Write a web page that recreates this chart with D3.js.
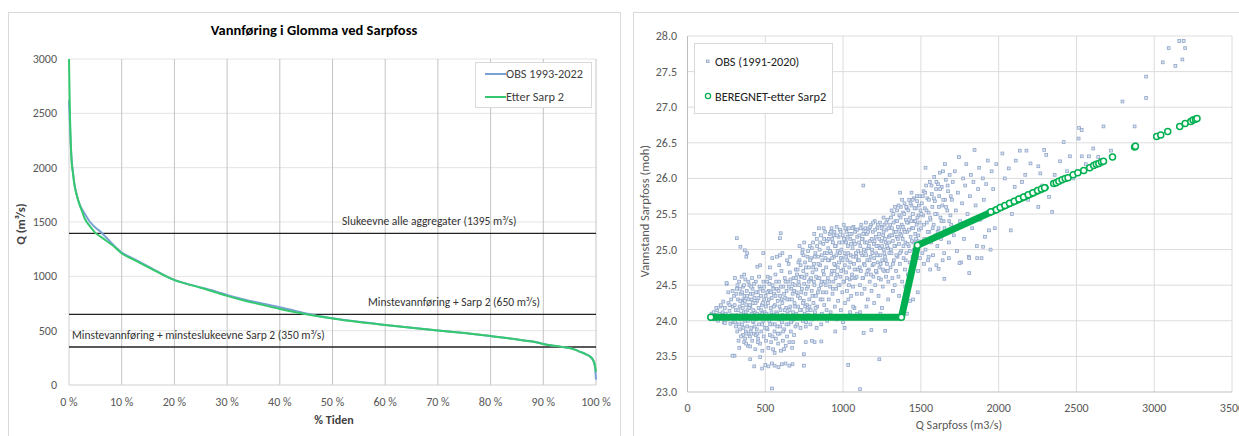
<!DOCTYPE html>
<html>
<head>
<meta charset="utf-8">
<script src="https://cdn.jsdelivr.net/npm/d3@7"></script>
<style>
  body { margin: 0; background: #fff; }
  svg { font-family: Calibri, Carlito, Lato, sans-serif; }
</style>
</head>
<body>
<svg id="chart" width="1239" height="436"></svg>
<script>
// ---------- left chart: duration curve ----------
const obsCurve = [[0,2620],[0.1,2500],[0.25,2300],[0.5,2080],[0.75,1960],[1,1860],[1.5,1745],[2,1665],[2.5,1615],[3,1575],[4,1500],[5,1450],[6,1410],[7,1360],[8,1310],[9,1262],[10,1218],[12,1168],[14,1118],[16,1065],[18,1012],[20,968],[22,937],[25,898],[28,858],[30,828],[33,790],[36,757],[40,715],[43,682],[45,658],[47,638],[50,615],[55,581],[60,553],[65,527],[70,502],[75,478],[80,450],[83,432],[86,412],[88,400],[90,378],[92,362],[94,348],[95,340],[96,325],[97,305],[98,285],[99,255],[99.5,222],[99.8,170],[100,50]];
const etterCurve = [[0,3000],[0.1,2700],[0.2,2450],[0.35,2200],[0.5,2050],[0.75,1950],[1,1850],[1.5,1740],[2,1660],[2.5,1595],[3,1530],[4,1460],[5,1400],[6,1365],[7,1330],[8,1295],[9,1255],[10,1212],[12,1160],[14,1110],[16,1060],[18,1010],[20,965],[22,935],[25,895],[28,850],[30,820],[33,780],[36,745],[40,700],[43,670],[45,652],[47,635],[50,612],[55,580],[60,553],[65,527],[70,502],[75,478],[80,450],[83,432],[86,412],[88,400],[90,378],[92,362],[94,348],[95,340],[96,325],[97,305],[98,285],[99,258],[99.5,225],[99.8,180],[100,120]];
const refLevels = [1395, 650, 350];
const refLabels = ["Slukeevne alle aggregater (1395 m³/s)", "Minstevannføring + Sarp 2 (650 m³/s)", "Minstevannføring + minsteslukeevne Sarp 2 (350 m³/s)"];
const refLabelX = [342, 368, 72];
const qTicks = [0, 500, 1000, 1500, 2000, 2500, 3000];
const pctTicks = [0, 10, 20, 30, 40, 50, 60, 70, 80, 90, 100];

// ---------- right chart: rating scatter ----------
const obsBandA = [[155,24.1],[168,24.12],[175,24.02],[182,24.08],[190,24.15],[197,24.0],[205,24.1],[212,24.2],[220,24.05],[226,24.12],[233,23.98],[240,24.18],[246,24.1],[252,24.52],[258,24.02],[263,24.25],[270,24.14],[276,23.96],[281,24.3],[287,24.08],[292,24.2],[297,23.98],[300,24.35],[215,24.22],[185,24.18],[262,24.4],[240,23.97],[290,24.42],[270,24.22],[230,24.27]];
const obsBandB = [[305,24.6],[310,24.15],[312,23.92],[318,24.45],[322,24.05],[325,24.3],[328,23.72],[332,24.55],[335,24.2],[338,23.88],[342,24.38],[345,24.1],[348,24.62],[350,23.95],[353,24.25],[356,23.8],[358,24.48],[361,24.12],[364,23.7],[367,24.35],[370,24.0],[372,24.58],[375,23.85],[378,24.22],[381,24.42],[384,23.92],[386,24.15],[389,23.65],[392,24.3],[395,24.05],[398,24.5],[401,23.78],[404,24.2],[407,24.38],[410,23.9],[413,24.1],[416,23.72],[418,24.45],[421,24.25],[424,23.98],[427,23.82],[430,24.32],[433,24.12],[436,23.6],[439,24.55],[442,24.02],[445,23.88],[448,24.28],[451,24.4],[454,23.75],[457,24.18],[460,23.95],[463,24.48],[466,23.68],[469,24.08],[472,24.35],[475,23.85],[478,24.22],[481,23.58],[484,24.42],[487,24.0],[490,23.78],[493,24.3],[496,24.12],[499,23.9],[320,23.85],[340,24.02],[360,24.3],[380,24.08],[400,24.22],[420,24.38],[440,23.8],[460,24.62],[480,24.1],[333,23.62],[371,23.75],[415,24.6],[452,23.7],[488,24.55],[365,24.65]];
const obsBandB2 = [[303,24.22],[307,23.98],[314,24.38],[316,24.08],[321,24.5],[327,24.15],[331,23.95],[336,24.45],[339,24.28],[344,23.78],[347,24.05],[352,24.4],[355,24.18],[359,23.9],[363,24.5],[366,24.02],[369,24.28],[374,24.12],[377,23.68],[383,24.35],[388,24.0],[391,24.55],[394,23.82],[397,24.18],[403,24.05],[406,23.85],[409,24.48],[412,24.3],[419,24.0],[423,24.15],[428,24.52],[432,23.92],[437,24.25],[441,24.4],[447,24.1],[450,23.82],[456,24.32],[462,24.05],[468,24.45],[474,24.15],[479,23.95],[485,24.25],[492,24.48],[497,24.05]];
const obsBandC = [[502,24.35],[505,23.72],[508,24.1],[511,24.55],[514,23.88],[517,24.25],[520,23.62],[523,24.42],[526,24.0],[529,23.8],[532,24.6],[535,24.18],[538,23.7],[541,24.32],[544,23.95],[547,24.5],[550,23.6],[553,24.08],[556,24.38],[559,23.85],[562,24.22],[565,24.65],[568,23.75],[571,24.12],[574,24.45],[577,23.92],[580,24.28],[583,23.68],[586,24.02],[589,24.55],[592,23.82],[595,24.35],[598,24.15],[601,23.58],[604,24.7],[607,23.98],[610,24.25],[613,23.72],[616,24.48],[619,24.05],[622,23.88],[625,24.6],[628,24.32],[631,23.65],[634,24.18],[637,24.42],[640,23.78],[643,24.1],[646,24.55],[649,23.95],[652,24.3],[655,23.7],[658,24.68],[661,24.2],[664,23.85],[667,24.45],[670,24.0],[673,23.62],[676,24.38],[679,24.12],[682,24.6],[685,23.8],[688,24.25],[691,24.5],[694,23.92],[697,24.72],[530,24.75],[560,23.55],[590,24.78],[620,23.6],[650,24.8],[680,23.7],[515,24.62],[545,24.88],[575,24.9],[640,24.85],[610,24.95],[660,24.9],[700,24.1]];
const obsBandC2 = [[504,24.2],[509,23.9],[513,24.4],[518,24.05],[522,24.3],[527,24.52],[531,23.95],[536,24.4],[540,24.12],[546,23.78],[551,24.45],[555,24.2],[561,23.95],[566,24.35],[570,24.55],[576,24.1],[581,23.82],[585,24.42],[591,24.2],[596,23.92],[600,24.48],[605,24.3],[611,24.08],[615,23.85],[621,24.38],[626,24.15],[630,24.55],[636,23.95],[641,24.3],[645,24.05],[651,24.48],[656,24.15],[662,24.58],[666,23.98],[671,24.3],[675,24.52],[681,24.02],[686,24.42],[692,24.2],[698,24.6]];
const obsBandD = [[702,24.4],[705,23.95],[708,24.72],[711,24.2],[714,24.55],[717,24.05],[720,24.85],[723,24.32],[726,23.9],[729,24.62],[732,24.15],[735,24.45],[738,24.95],[741,24.0],[744,24.7],[747,24.28],[750,24.52],[753,24.1],[756,24.82],[759,24.38],[762,23.98],[765,24.65],[768,24.22],[771,24.9],[774,24.48],[777,24.08],[780,24.75],[783,24.3],[786,25.05],[789,24.58],[792,24.15],[795,24.88],[798,24.42],[801,24.02],[804,24.68],[807,25.1],[810,24.25],[813,24.8],[816,24.5],[819,24.12],[822,24.95],[825,24.35],[828,24.72],[831,25.15],[834,24.2],[837,24.6],[840,24.9],[843,24.05],[846,24.45],[849,25.0],[852,24.78],[855,24.3],[858,25.2],[861,24.55],[864,24.1],[867,24.85],[870,24.4],[873,25.08],[876,24.65],[879,24.22],[882,24.95],[885,25.25],[888,24.5],[891,24.75],[894,24.15],[897,25.12],[740,25.0],[760,23.92],[790,23.95],[830,23.9],[860,23.95],[720,25.05],[750,25.1],[815,25.22],[845,25.3],[875,25.3],[898,24.0]];
const obsBandD2 = [[704,24.65],[709,24.35],[713,24.82],[718,24.5],[722,24.15],[727,24.78],[731,24.4],[736,24.62],[742,24.25],[746,24.92],[752,24.6],[757,24.2],[761,24.75],[766,24.45],[770,24.15],[775,24.98],[779,24.55],[784,24.2],[788,24.85],[794,24.6],[799,25.02],[803,24.35],[808,24.75],[812,24.55],[818,24.9],[823,24.18],[827,24.62],[833,25.05],[838,24.4],[842,24.8],[848,24.6],[853,25.1],[857,24.5],[863,24.92],[868,24.3],[872,24.7],[878,25.15],[883,24.55],[887,24.88],[893,24.4],[896,24.95]];
const obsBandE = [[902,24.6],[905,25.02],[908,24.3],[911,24.85],[914,25.22],[917,24.48],[920,24.12],[923,24.95],[926,25.3],[929,24.7],[932,24.38],[935,25.1],[938,24.55],[941,24.9],[944,25.25],[947,24.2],[950,24.78],[953,25.05],[956,24.45],[959,25.32],[962,24.65],[965,24.98],[968,24.28],[971,25.18],[974,24.82],[977,24.5],[980,25.28],[983,24.62],[986,24.15],[989,25.0],[992,24.88],[995,24.4],[998,25.2],[1001,24.72],[1004,25.35],[1007,24.55],[1010,24.95],[1013,24.25],[1016,25.12],[1019,24.68],[1022,25.25],[1025,24.42],[1028,24.85],[1031,25.05],[1034,24.3],[1037,25.3],[1040,24.75],[1043,24.58],[1046,25.15],[1049,24.92],[1052,24.35],[1055,25.22],[1058,24.65],[1061,25.02],[1064,24.48],[1067,25.32],[1070,24.8],[1073,24.18],[1076,25.08],[1079,24.6],[1082,25.28],[1085,24.9],[1088,24.38],[1091,25.18],[1094,24.72],[1097,24.98],[915,24.05],[960,24.02],[1000,23.98],[1045,24.12],[1090,24.1],[930,25.15],[1020,25.1],[1065,24.2],[985,24.88],[945,24.7]];
const obsBandE2 = [[903,24.85],[907,25.15],[912,24.55],[916,24.98],[921,25.25],[925,24.65],[930,24.88],[934,24.45],[939,25.2],[943,24.8],[948,25.05],[952,24.6],[957,24.92],[961,25.2],[966,24.75],[970,24.5],[975,25.1],[979,24.95],[984,25.25],[988,24.7],[993,25.1],[997,24.85],[1002,24.55],[1006,25.15],[1011,24.78],[1015,25.3],[1020,24.9],[1024,24.6],[1029,25.18],[1033,24.95],[1038,24.5],[1042,25.22],[1047,24.82],[1051,25.08],[1056,24.6],[1060,25.3],[1065,24.9],[1069,25.12],[1074,24.72],[1078,25.25],[1083,24.95],[1087,24.62],[1092,25.28],[1096,24.85]];
const obsBandF = [[1102,24.85],[1105,25.2],[1108,24.5],[1111,25.05],[1114,24.7],[1117,25.35],[1120,24.38],[1123,24.92],[1126,25.15],[1129,24.6],[1132,25.28],[1135,24.8],[1138,24.45],[1141,25.1],[1144,24.98],[1147,25.38],[1150,24.65],[1153,25.22],[1156,24.85],[1159,24.3],[1162,25.02],[1165,24.72],[1168,25.3],[1171,24.55],[1174,25.12],[1177,24.9],[1180,25.35],[1183,24.42],[1186,25.0],[1189,24.78],[1192,25.25],[1195,24.62],[1198,25.08],[1201,24.88],[1204,25.4],[1207,24.5],[1210,25.18],[1213,24.95],[1216,24.68],[1219,25.3],[1222,24.82],[1225,25.05],[1228,24.35],[1231,25.22],[1234,24.75],[1237,25.38],[1240,24.92],[1243,24.58],[1246,25.12],[1249,25.32],[1252,24.85],[1255,24.48],[1258,25.2],[1261,25.0],[1264,24.7],[1267,25.35],[1270,24.9],[1273,25.1],[1276,24.62],[1279,25.28],[1282,24.8],[1285,25.42],[1288,25.02],[1291,24.55],[1294,25.18],[1297,24.95],[1110,24.12],[1150,24.2],[1200,24.25],[1250,24.18],[1290,24.3],[1180,24.05],[1240,24.1],[1130,25.9],[1260,25.45]];
const obsBandF2 = [[1103,25.1],[1107,24.75],[1112,25.3],[1116,24.95],[1121,25.15],[1125,24.6],[1130,25.22],[1134,25.0],[1139,24.78],[1143,25.3],[1148,24.92],[1152,25.1],[1157,24.7],[1161,25.25],[1166,25.05],[1170,24.85],[1175,25.32],[1179,24.65],[1184,25.15],[1188,24.95],[1193,25.38],[1197,24.8],[1202,25.12],[1206,25.28],[1211,24.7],[1215,25.05],[1220,24.92],[1224,25.35],[1229,24.6],[1233,25.15],[1238,25.02],[1242,24.8],[1247,25.3],[1251,25.05],[1256,24.72],[1260,25.25],[1265,24.95],[1269,25.15],[1274,24.85],[1278,25.38],[1283,25.05],[1287,24.7],[1292,25.3],[1296,25.1]];
const obsBandG = [[1302,25.2],[1305,24.75],[1308,25.45],[1311,24.95],[1314,25.3],[1317,24.6],[1320,25.12],[1323,25.5],[1326,24.85],[1329,25.25],[1332,24.5],[1335,25.05],[1338,25.4],[1341,24.7],[1344,25.18],[1347,25.55],[1350,24.9],[1353,25.32],[1356,24.62],[1359,25.08],[1362,25.48],[1365,24.8],[1368,25.22],[1371,25.6],[1374,24.98],[1377,25.35],[1380,24.55],[1383,25.15],[1386,25.52],[1389,24.88],[1392,25.28],[1395,25.65],[1398,24.72],[1401,25.1],[1404,25.42],[1407,24.95],[1410,25.58],[1413,25.25],[1416,24.65],[1419,25.38],[1422,25.05],[1425,25.7],[1428,24.82],[1431,25.45],[1434,25.18],[1437,24.58],[1440,25.62],[1443,25.3],[1446,24.9],[1449,25.5],[1452,25.1],[1455,25.72],[1458,24.78],[1461,25.4],[1464,25.22],[1467,25.58],[1470,24.95],[1473,25.35],[1476,25.68],[1479,25.12],[1482,24.7],[1485,25.48],[1488,25.28],[1491,25.75],[1494,24.88],[1497,25.55],[1320,24.42],[1360,24.35],[1400,24.48],[1430,24.28],[1410,24.1],[1450,24.3],[1480,24.4],[1367,25.8],[1440,25.8]];
const obsBandG2 = [[1303,25.35],[1307,25.0],[1312,25.55],[1316,25.2],[1321,24.8],[1325,25.38],[1330,25.05],[1334,25.6],[1339,25.25],[1343,24.92],[1348,25.4],[1352,25.15],[1357,25.62],[1361,25.28],[1366,24.95],[1370,25.45],[1375,25.2],[1379,25.7],[1384,25.32],[1388,25.05],[1393,25.5],[1397,25.25],[1402,24.85],[1406,25.6],[1411,25.38],[1415,25.08],[1420,25.55],[1424,25.28],[1429,24.98],[1433,25.65],[1438,25.4],[1442,25.12],[1447,25.7],[1451,25.3],[1456,25.0],[1460,25.58],[1465,25.4],[1469,25.15],[1474,25.75],[1478,25.45],[1483,25.2],[1487,25.62],[1492,25.38],[1496,25.1]];
const obsBandH = [[1502,25.3],[1506,25.65],[1510,24.95],[1514,25.48],[1518,25.82],[1522,25.15],[1526,25.58],[1530,25.0],[1534,25.9],[1538,25.38],[1542,25.72],[1546,24.85],[1550,25.52],[1554,25.25],[1558,25.95],[1562,25.42],[1566,25.1],[1570,25.78],[1574,25.6],[1578,24.92],[1582,25.35],[1586,26.02],[1590,25.68],[1594,25.2],[1598,25.85],[1602,25.5],[1606,25.05],[1610,25.92],[1614,25.3],[1618,25.75],[1622,26.08],[1626,25.45],[1630,25.15],[1634,25.88],[1638,25.62],[1642,26.1],[1646,25.4],[1650,24.95],[1655,25.7],[1660,25.98],[1665,25.25],[1670,25.55],[1675,25.82],[1680,25.1],[1685,26.05],[1690,25.48],[1695,25.35],[1520,24.8],[1560,24.72],[1600,24.78],[1640,24.85],[1680,24.88],[1530,26.15],[1700,25.7],[1655,26.2]];
const obsBandH2 = [[1504,25.5],[1512,25.75],[1520,25.35],[1528,25.8],[1536,25.55],[1544,25.25],[1552,25.7],[1560,25.45],[1568,25.9],[1576,25.3],[1584,25.72],[1592,25.5],[1600,25.95],[1608,25.25],[1616,25.6],[1624,25.85],[1632,25.4],[1644,25.7],[1652,25.3],[1662,25.6],[1672,25.9],[1682,25.4],[1692,25.75]];
const obsBandI = [[1705,25.95],[1712,25.2],[1718,26.1],[1725,25.55],[1732,24.98],[1738,25.8],[1745,26.3],[1752,25.4],[1758,24.82],[1765,25.65],[1772,26.0],[1778,25.15],[1785,25.9],[1792,26.2],[1800,25.5],[1808,24.9],[1815,25.75],[1822,26.05],[1830,25.3],[1838,25.95],[1845,26.4],[1852,25.62],[1860,25.05],[1868,25.85],[1875,26.15],[1882,25.42],[1890,24.88],[1898,26.0],[1905,25.7],[1912,25.18],[1920,25.92],[1930,26.25],[1940,25.5],[1948,25.0],[1955,26.1],[1965,25.85],[1975,25.3],[1985,26.2]];
const obsBandJ = [[2024,26.35],[2065,26.14],[2078,25.27],[2103,25.88],[2136,26.39],[2171,26.05],[2179,26.39],[2205,26.21],[2230,25.81],[2255,26.17],[2255,25.6],[2268,26.07],[2293,26.4],[2306,26.33],[2324,25.74],[2344,25.53],[2395,26.24],[2418,26.51],[2458,26.31],[2514,26.56],[2517,26.71],[2534,26.68],[2534,26.31],[2580,26.31],[2608,26.42],[2674,26.73],[2722,26.39],[2040,26.0],[2110,26.25],[2150,25.95],[2190,25.7],[2280,25.9],[2360,26.05],[2440,26.1],[2480,26.0],[2560,26.2],[2640,26.3],[2085,25.5]];
const obsHigh = [[2796,27.08],[2874,26.73],[2948,27.43],[2948,27.13],[3055,27.63],[3093,27.83],[3136,27.58],[3161,27.93],[3189,27.93],[3181,27.67],[3199,27.83],[2880,26.48]];
const obsLow = [[1132,23.83],[1182,23.87],[1271,23.86],[1233,23.46],[1109,23.04],[1033,23.38],[543,23.05],[748,23.37],[817,23.7],[860,23.71],[748,23.53],[467,23.49],[543,23.4],[606,23.39],[675,23.39],[429,23.36],[480,23.33],[302,23.51],[289,23.51],[403,23.46],[403,23.64],[378,23.82],[500,23.38],[520,23.36],[560,23.37],[585,23.35],[630,23.4],[655,23.37],[760,23.7],[800,23.72],[950,23.85],[1010,23.9]];
const obsHighLeft = [[317,25.16],[340,25.04],[368,24.99],[383,24.95],[599,25.23],[594,25.16],[594,24.92],[467,24.78],[449,24.76],[251,24.53],[378,24.9],[487,24.95],[1862,24.88],[1811,24.88],[1748,24.81],[1811,24.67],[1651,24.59],[1614,24.73],[1550,24.9],[1900,25.04],[1938,25.27]];

// BEREGNET-etter Sarp2: dense band vertices + separate circles
const beregnetBand = [[150,24.05],[1375,24.05],[1478,25.06],[2300,25.87]];
const beregnetPoints = [[150,24.05],[1375,24.05],[1478,25.06],[1950,25.53],[1985,25.56],[2010,25.59],[2040,25.62],[2070,25.65],[2100,25.68],[2130,25.71],[2160,25.74],[2190,25.77],[2220,25.8],[2250,25.83],[2275,25.85],[2295,25.87],[2354,25.93],[2370,25.94],[2387,25.96],[2408,25.98],[2428,26.0],[2446,26.01],[2479,26.05],[2509,26.08],[2547,26.11],[2585,26.15],[2611,26.18],[2628,26.2],[2644,26.21],[2661,26.23],[2674,26.24],[2732,26.3],[2874,26.44],[2879,26.45],[3016,26.59],[3042,26.61],[3087,26.66],[3164,26.73],[3199,26.77],[3235,26.8],[3250,26.82],[3265,26.83],[3275,26.84]];
const hTicks = [23.0, 23.5, 24.0, 24.5, 25.0, 25.5, 26.0, 26.5, 27.0, 27.5, 28.0];
const qsTicks = [0, 500, 1000, 1500, 2000, 2500, 3000, 3500];

const svg = d3.select("#chart");
const textCol = "#595959";

// ================= LEFT CHART =================
const left = svg.append("g");
left.append("rect")
    .attr("x", 8.5).attr("y", 12.5).attr("width", 612).attr("height", 440)
    .attr("fill", "#fff").attr("stroke", "#d9d9d9");

const x1 = d3.scaleLinear().domain([0, 100]).range([69, 596]);
const y1 = d3.scaleLinear().domain([0, 3000]).range([385, 59]);

left.append("text")
    .attr("x", 314).attr("y", 35)
    .attr("text-anchor", "middle")
    .attr("font-size", 14.5).attr("font-weight", "bold").attr("fill", "#000")
    .text("Vannføring i Glomma ved Sarpfoss");

left.append("g").selectAll("line")
    .data(qTicks.filter(d => d > 0))
    .join("line")
    .attr("x1", x1(0)).attr("x2", x1(100))
    .attr("y1", d => y1(d)).attr("y2", d => y1(d))
    .attr("stroke", "#e4e4e4");

left.append("g").selectAll("line")
    .data(pctTicks)
    .join("line")
    .attr("x1", d => x1(d)).attr("x2", d => x1(d))
    .attr("y1", y1(0)).attr("y2", y1(3000))
    .attr("stroke", d => d === 0 ? "#d0d0d0" : "#c4c4c4");

left.append("line")
    .attr("x1", x1(0)).attr("x2", x1(100))
    .attr("y1", y1(0)).attr("y2", y1(0))
    .attr("stroke", "#d0d0d0");

left.append("g").selectAll("text")
    .data(qTicks)
    .join("text")
    .attr("x", 57).attr("y", d => y1(d) + 4)
    .attr("text-anchor", "end")
    .attr("font-size", 12).attr("fill", textCol)
    .text(d => d);

left.append("g").selectAll("text")
    .data(pctTicks)
    .join("text")
    .attr("x", d => x1(d)).attr("y", 406)
    .attr("text-anchor", "middle")
    .attr("font-size", 12).attr("fill", textCol)
    .text(d => d + " %");

left.append("text")
    .attr("x", 334).attr("y", 424)
    .attr("text-anchor", "middle")
    .attr("font-size", 12).attr("font-weight", "bold").attr("fill", "#404040")
    .text("%  Tiden");

left.append("text")
    .attr("transform", "translate(25,224) rotate(-90)")
    .attr("text-anchor", "middle")
    .attr("font-size", 12.5).attr("font-weight", "bold").attr("fill", "#404040")
    .text("Q (m³/s)");

left.append("g").selectAll("line")
    .data(refLevels)
    .join("line")
    .attr("x1", x1(0)).attr("x2", x1(100))
    .attr("y1", d => y1(d)).attr("y2", d => y1(d))
    .attr("stroke", "#222").attr("stroke-width", 1.4);

left.append("g").selectAll("text")
    .data(refLevels)
    .join("text")
    .attr("x", (d, i) => refLabelX[i]).attr("y", d => y1(d) - 8)
    .attr("font-size", 11.5).attr("fill", "#333")
    .text((d, i) => refLabels[i]);

const line1 = d3.line()
    .x(d => x1(d[0])).y(d => y1(d[1]))
    .curve(d3.curveMonotoneX);

left.append("path")
    .datum(obsCurve)
    .attr("d", line1)
    .attr("fill", "none").attr("stroke", "#7aa0d4").attr("stroke-width", 2);

left.append("path")
    .datum(etterCurve)
    .attr("d", line1)
    .attr("fill", "none").attr("stroke", "#35c96f").attr("stroke-width", 2);

const leg1 = left.append("g");
leg1.append("rect")
    .attr("x", 475.5).attr("y", 62.5).attr("width", 116).attr("height", 45)
    .attr("fill", "#fff").attr("stroke", "#d9d9d9");
[["OBS 1993-2022", "#7aa0d4", 74], ["Etter Sarp 2", "#35c96f", 97]].forEach(([lab, col, yy]) => {
    leg1.append("line")
        .attr("x1", 485).attr("x2", 506).attr("y1", yy).attr("y2", yy)
        .attr("stroke", col).attr("stroke-width", 2);
    leg1.append("text")
        .attr("x", 506).attr("y", yy + 4)
        .attr("font-size", 12.3).attr("fill", "#404040")
        .text(lab);
});

// ================= RIGHT CHART =================
const right = svg.append("g");
right.append("rect")
    .attr("x", 633.5).attr("y", 12.5).attr("width", 620).attr("height", 440)
    .attr("fill", "#fff").attr("stroke", "#d9d9d9");

const x2 = d3.scaleLinear().domain([0, 3500]).range([687.5, 1232]);
const y2 = d3.scaleLinear().domain([23, 28]).range([392, 36]);

right.append("g").selectAll("line")
    .data(hTicks.slice(1))
    .join("line")
    .attr("x1", x2(0)).attr("x2", x2(3500))
    .attr("y1", d => y2(d)).attr("y2", d => y2(d))
    .attr("stroke", "#dcdcdc");

right.append("g").selectAll("line")
    .data(qsTicks.slice(1))
    .join("line")
    .attr("x1", d => x2(d)).attr("x2", d => x2(d))
    .attr("y1", y2(23)).attr("y2", y2(28))
    .attr("stroke", "#dcdcdc");

right.append("line")
    .attr("x1", x2(0)).attr("x2", x2(0)).attr("y1", y2(23)).attr("y2", y2(28))
    .attr("stroke", "#bfbfbf");
right.append("line")
    .attr("x1", x2(0)).attr("x2", x2(3500)).attr("y1", y2(23)).attr("y2", y2(23))
    .attr("stroke", "#bfbfbf");

right.append("g").selectAll("text")
    .data(hTicks)
    .join("text")
    .attr("x", 677).attr("y", d => y2(d) + 4)
    .attr("text-anchor", "end")
    .attr("font-size", 12).attr("fill", textCol)
    .text(d => d.toFixed(1));

right.append("g").selectAll("text")
    .data(qsTicks)
    .join("text")
    .attr("x", d => x2(d)).attr("y", 412)
    .attr("text-anchor", "middle")
    .attr("font-size", 12).attr("fill", textCol)
    .text(d => d);

right.append("text")
    .attr("x", 959).attr("y", 429)
    .attr("text-anchor", "middle")
    .attr("font-size", 12).attr("fill", textCol)
    .text("Q Sarpfoss (m3/s)");

right.append("text")
    .attr("transform", "translate(649,211) rotate(-90)")
    .attr("text-anchor", "middle")
    .attr("font-size", 12.5).attr("fill", textCol)
    .text("Vannstand Sarpfoss (moh)");

const obsAll = [].concat(obsBandA, obsBandB, obsBandB2, obsBandC, obsBandC2, obsBandD, obsBandD2,
    obsBandE, obsBandE2, obsBandF, obsBandF2, obsBandG, obsBandG2, obsBandH, obsBandH2,
    obsBandI, obsBandJ, obsHigh, obsLow, obsHighLeft);

right.append("g").selectAll("rect")
    .data(obsAll)
    .join("rect")
    .attr("x", d => x2(d[0]) - 1.4).attr("y", d => y2(d[1]) - 1.4)
    .attr("width", 2.8).attr("height", 2.8)
    .attr("fill", "#dde5f1").attr("stroke", "#8fa5c9").attr("stroke-width", 0.8);

const line2 = d3.line().x(d => x2(d[0])).y(d => y2(d[1]));
right.append("path")
    .datum(beregnetBand)
    .attr("d", line2)
    .attr("fill", "none").attr("stroke", "#00b050").attr("stroke-width", 7)
    .attr("stroke-linecap", "round").attr("stroke-linejoin", "round");

right.append("g").selectAll("circle")
    .data(beregnetPoints)
    .join("circle")
    .attr("cx", d => x2(d[0])).attr("cy", d => y2(d[1]))
    .attr("r", 3)
    .attr("fill", "#fff").attr("stroke", "#00b050").attr("stroke-width", 1.5);

const leg2 = right.append("g");
leg2.append("rect")
    .attr("x", 694.5).attr("y", 43.5).attr("width", 138).attr("height", 70)
    .attr("fill", "#fff").attr("stroke", "#d9d9d9");
leg2.append("rect")
    .attr("x", 706.5).attr("y", 60).attr("width", 2.6).attr("height", 2.6)
    .attr("fill", "#dde5f1").attr("stroke", "#8fa5c9").attr("stroke-width", 0.8);
leg2.append("text")
    .attr("x", 715).attr("y", 65.5)
    .attr("font-size", 12.3).attr("fill", "#222")
    .text("OBS (1991-2020)");
leg2.append("circle")
    .attr("cx", 708).attr("cy", 96).attr("r", 2.6)
    .attr("fill", "#fff").attr("stroke", "#00b050").attr("stroke-width", 1.3);
leg2.append("text")
    .attr("x", 715).attr("y", 100.5)
    .attr("font-size", 12.3).attr("fill", "#222")
    .text("BEREGNET-etter Sarp2");
</script>
</body>
</html>
